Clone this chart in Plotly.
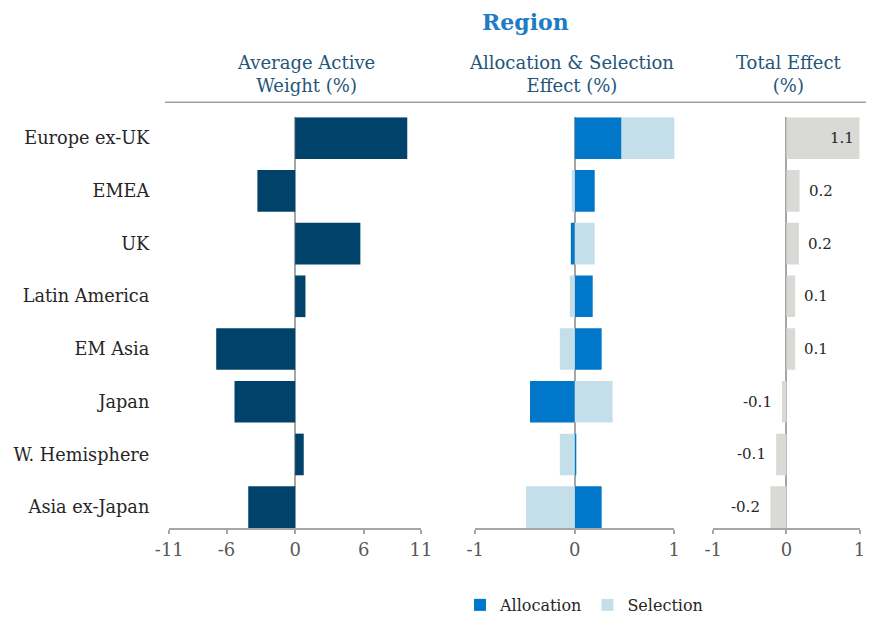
import plotly.graph_objects as go

regions = ["Europe ex-UK", "EMEA", "UK", "Latin America", "EM Asia", "Japan",
           "W. Hemisphere", "Asia ex-Japan"]
active_weight = [9.8, -3.3, 5.7, 0.9, -6.9, -5.3, 0.75, -4.1]
allocation = [0.47, 0.20, -0.04, 0.18, 0.27, -0.45, 0.01, 0.27]
selection = [0.59, -0.03, 0.20, -0.05, -0.15, 0.38, -0.15, -0.49]
total_effect = [1.06, 0.18, 0.17, 0.12, 0.12, -0.06, -0.14, -0.22]
weight_ticks = [-11, -6, 0, 6, 11]
weight_tick_labels = ["-11", "-6", "0", "6", "11"]
effect_ticks = [-1, 0, 1]
effect_tick_labels = ["-1", "0", "1"]

# page body has an 8px margin; figure sized so that it fits the window
OFF = 8
W, H = 874 - 2 * OFF, 618 - OFF
def px(X):
    return (X - OFF) / W
def py(Y):
    return (H - (Y - OFF)) / H

SERIF = "DejaVu Serif"
AXIS_GREY = "#A6A6A6"
TICK_FONT = dict(family=SERIF, size=18, color="#595959")

fig = go.Figure()
fig.add_trace(go.Bar(y=regions, x=active_weight, orientation="h",
                     marker=dict(color="#00426A", line=dict(width=0)),
                     xaxis="x", yaxis="y", showlegend=False, name="Active Weight"))
fig.add_trace(go.Bar(y=regions, x=allocation, orientation="h", name="Allocation",
                     marker=dict(color="#0077C8", line=dict(width=0)),
                     xaxis="x2", yaxis="y2"))
fig.add_trace(go.Bar(y=regions, x=selection, orientation="h", name="Selection",
                     marker=dict(color="#C5DFEA", line=dict(width=0)),
                     xaxis="x2", yaxis="y2"))
fig.add_trace(go.Bar(y=regions, x=total_effect, orientation="h", name="Total",
                     marker=dict(color="#D9D9D6", line=dict(width=0)),
                     xaxis="x3", yaxis="y3", showlegend=False))

y_dom = [py(528), py(117.3)]
n = len(regions)
half = (1 - 0.21) / 2
y_range = [n - 1 + half, -half]

def xaxis(dom, rng, ticks, labels, anchor):
    return dict(domain=[px(dom[0]), px(dom[1])], range=rng, tickvals=ticks,
                ticktext=labels, anchor=anchor, automargin=False,
                ticklabeloverflow="allow",
                zeroline=True, zerolinecolor=AXIS_GREY, zerolinewidth=2,
                showline=True, linecolor=AXIS_GREY, linewidth=2,
                ticks="outside", ticklen=4, tickwidth=2, tickcolor=AXIS_GREY,
                showgrid=False, tickfont=TICK_FONT, fixedrange=True)

def yaxis(anchor, show):
    return dict(domain=y_dom, type="category", categoryorder="array",
                categoryarray=regions, range=y_range, anchor=anchor,
                automargin=False, fixedrange=True,
                showticklabels=show, showgrid=False, zeroline=False,
                showline=False, ticks="", ticklabelstandoff=19,
                tickfont=dict(family=SERIF, size=17.7, color="#262626"))

fig.update_layout(
    width=W, height=H, autosize=False,
    margin=dict(l=0, r=0, t=0, b=0, pad=0, autoexpand=False),
    paper_bgcolor="white", plot_bgcolor="white",
    barmode="relative", bargap=0.21,
    xaxis=xaxis((169.3, 421.0), [-11, 11], weight_ticks, weight_tick_labels, "y"),
    xaxis2=xaxis((475.3, 674.3), [-1, 1], effect_ticks, effect_tick_labels, "y2"),
    xaxis3=xaxis((713.3, 859.5), [-1, 1], effect_ticks, effect_tick_labels, "y3"),
    yaxis=yaxis("x", True),
    yaxis2=yaxis("x2", False),
    yaxis3=yaxis("x3", False),
    legend=dict(orientation="h", x=px(460), y=py(605), yanchor="middle",
                xanchor="left", font=dict(family=SERIF, size=16, color="#262626"),
                traceorder="normal"),
    font=dict(family=SERIF),
)

HEAD = "#24557A"
ann = [
    dict(text="<b>Region</b>", x=px(525), y=py(22), font=dict(size=22, color="#1C7CC4")),
    dict(text="Average Active<br>Weight (%)", x=px(306), y=py(74), font=dict(size=18, color=HEAD)),
    dict(text="Allocation & Selection<br>Effect (%)", x=px(571), y=py(74), font=dict(size=18, color=HEAD)),
    dict(text="Total Effect<br>(%)", x=px(789), y=py(74), font=dict(size=18, color=HEAD)),
]
for a in ann:
    a.update(xref="paper", yref="paper", showarrow=False, xanchor="center", yanchor="middle")
    a["font"]["family"] = SERIF

xmax = 1
for r, v in zip(regions, total_effect):
    lab = f"{v:.1f}"
    if v > xmax * 0.5:
        a = dict(x=min(v, xmax), xanchor="right", xshift=-4)
    elif v >= 0:
        a = dict(x=v, xanchor="left", xshift=7)
    else:
        a = dict(x=v, xanchor="right", xshift=-8)
    a.update(text=lab, y=r, xref="x3", yref="y3", showarrow=False, yanchor="middle",
             font=dict(family=SERIF, size=15, color="#262626"))
    ann.append(a)

fig.update_layout(annotations=ann)
fig.add_shape(type="line", xref="paper", yref="paper", x0=px(165), x1=1,
              y0=py(102.3), y1=py(102.3),
              line=dict(color="#A0A0A0", width=1.5))

fig.write_html("out.html")
